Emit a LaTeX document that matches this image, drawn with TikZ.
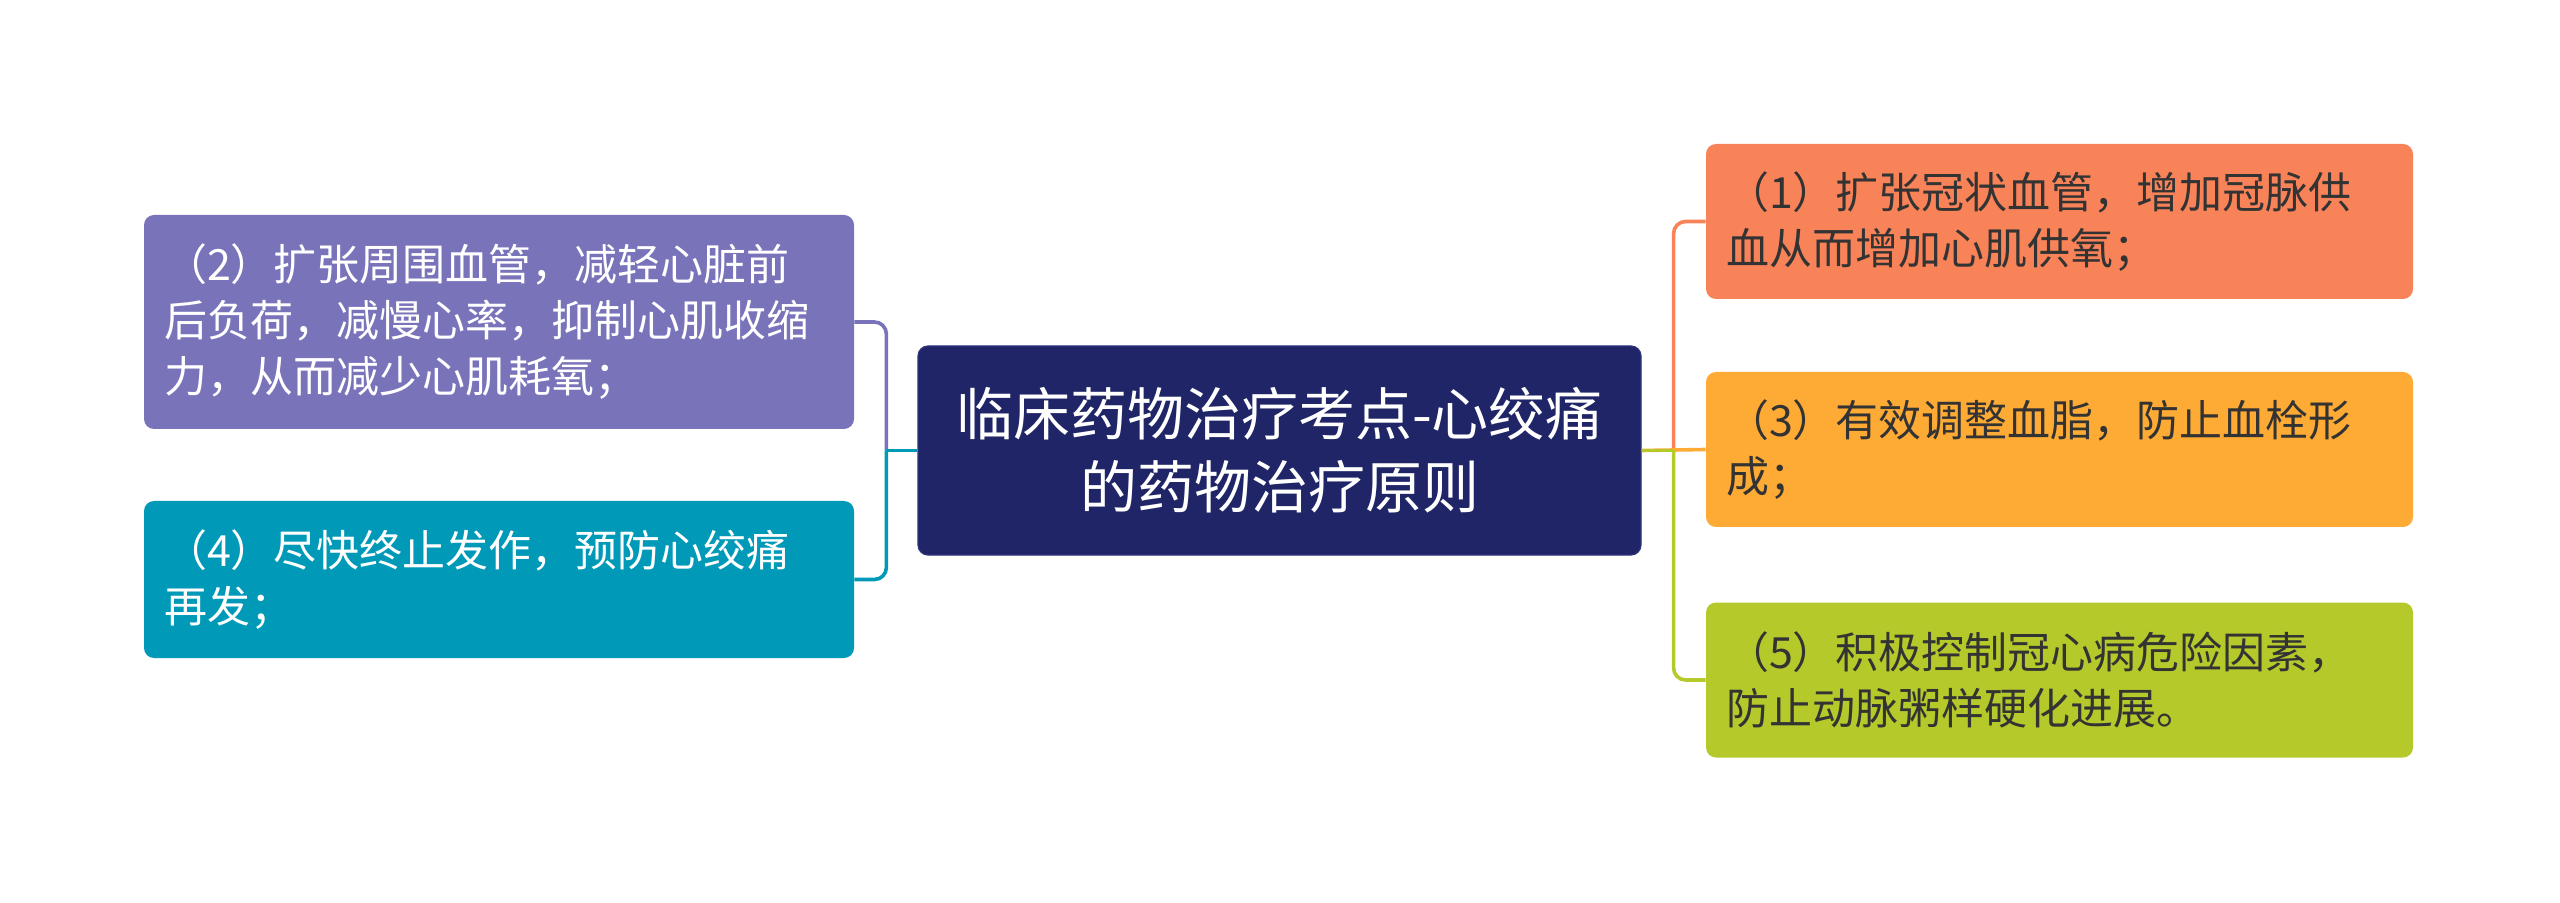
\documentclass[tikz,border=0pt]{standalone}
\usepackage{fontspec}
\setmainfont{Noto Sans CJK SC}
\definecolor{navy}{HTML}{1F2566}
\definecolor{navyline}{HTML}{2E3479}
\definecolor{lilac}{HTML}{7973BA}
\definecolor{sea}{HTML}{0099B7}
\definecolor{coral}{HTML}{F98359}
\definecolor{amber}{HTML}{FEAB36}
\definecolor{lime}{HTML}{B5C92B}
\definecolor{ink}{HTML}{333333}
\tikzset{
  leaf/.style={rounded corners=5pt, inner xsep=10pt, inner ysep=0pt,
    text width=335pt, align=left, font=\fontsize{21.5}{28}\selectfont},
  link/.style={draw=#1, line width=1.8pt, rounded corners=6pt}
}
\begin{document}
\begin{tikzpicture}[x=0.5pt,y=-0.5pt]
  \useasboundingbox (0,0) rectangle (2560,903);
  \node (title) at (1279.5,450.5) [rounded corners=5pt, fill=navy, draw=navyline, line width=0.6pt,
    text=white, inner xsep=10pt, text width=341.5pt, minimum height=104.5pt, align=center,
    font=\fontsize{28.5}{36.5}\selectfont] {临床药物治疗考点-心绞痛\\的药物治疗原则};
  \node (p2) at (499,322) [leaf, fill=lilac, text=white, minimum height=107pt]
    {（2）扩张周围血管，减轻心脏前\\后负荷，减慢心率，抑制心肌收缩\\力，从而减少心肌耗氧；};
  \node (p4) at (499,579.5) [leaf, fill=sea, text=white, minimum height=78.5pt]
    {（4）尽快终止发作，预防心绞痛\\再发；};
  \node (p1) at (2059.5,221.5) [leaf, fill=coral, text=ink, text width=333.5pt, minimum height=77.5pt]
    {（1）扩张冠状血管，增加冠脉供\\血从而增加心肌供氧；};
  \node (p3) at (2059.5,449.5) [leaf, fill=amber, text=ink, text width=333.5pt, minimum height=77.5pt]
    {（3）有效调整血脂，防止血栓形\\成；};
  \node (p5) at (2059.5,680) [leaf, fill=lime, text=ink, text width=333.5pt, minimum height=77.5pt]
    {（5）积极控制冠心病危险因素，\\防止动脉粥样硬化进展。};
  \coordinate (lj) at ([xshift=-15.5pt]title.west);
  \coordinate (rj) at ([xshift=16pt]title.east);
  \draw [link=lilac] (lj) |- (p2.east);
  \draw [link=sea] (lj) |- (p4.east);
  \draw [link=sea] (title.west) -- (lj);
  \draw [link=coral] (rj) |- (p1.west);
  \draw [link=amber] (title.east) -- (p3.west);
  \draw [link=lime] (rj) |- (p5.west);
  \draw [link=lime] (title.east) -- (rj);
\end{tikzpicture}
\end{document}
